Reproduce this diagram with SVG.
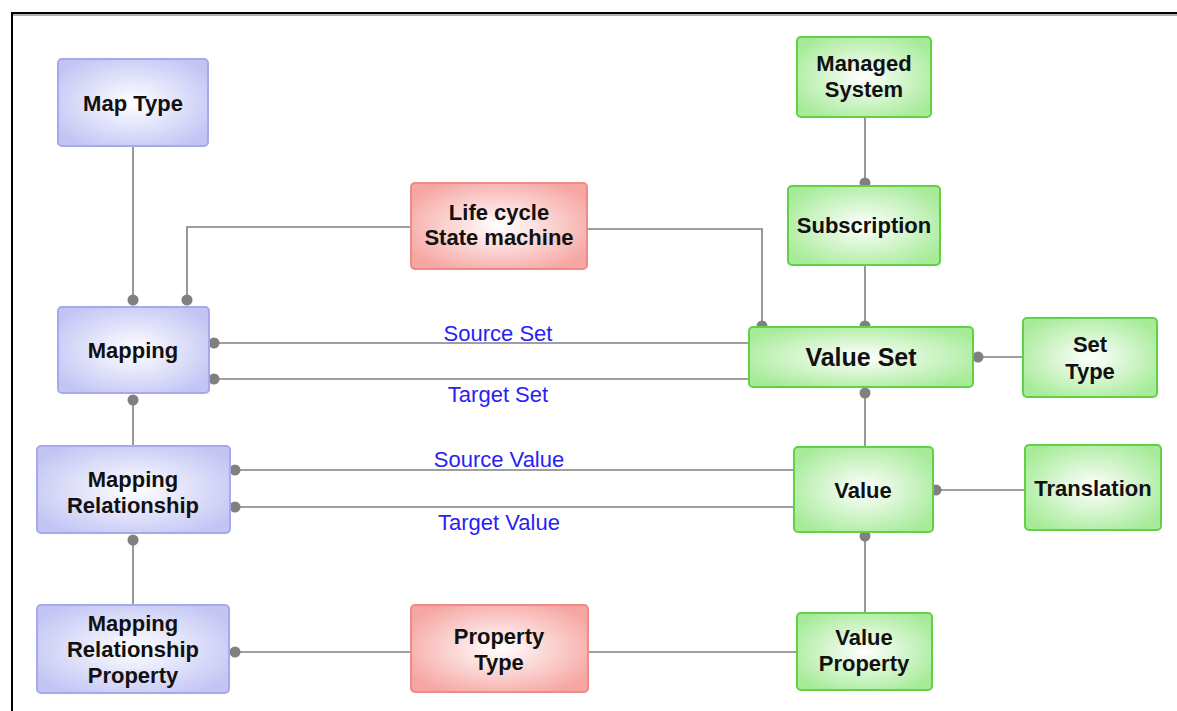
<svg xmlns="http://www.w3.org/2000/svg" width="1177" height="711" viewBox="0 0 1177 711">
<style>
.n{font-family:"Liberation Sans",Arial,sans-serif;font-weight:bold;font-size:22px;fill:#111;text-anchor:middle}
.big{font-size:25px}
.lb{font-family:"Liberation Sans",Arial,sans-serif;font-size:22px;fill:#2a1ef5;text-anchor:middle}
.c{stroke:#7f7f7f;stroke-width:1.6;fill:none}
.d{fill:#808080}
.blue{fill:url(#gb);stroke:#a6a9ec;stroke-width:2}
.green{fill:url(#gg);stroke:#63d046;stroke-width:2}
.red{fill:url(#gr);stroke:#f08a86;stroke-width:2}
</style>
<defs>
<radialGradient id="gb" cx="0.5" cy="0.5" r="0.6"><stop offset="0" stop-color="#ffffff"/><stop offset="1" stop-color="#c2c5f4"/></radialGradient>
<radialGradient id="gg" cx="0.5" cy="0.5" r="0.6"><stop offset="0" stop-color="#ffffff"/><stop offset="1" stop-color="#a6eb98"/></radialGradient>
<radialGradient id="gr" cx="0.5" cy="0.5" r="0.6"><stop offset="0" stop-color="#ffffff"/><stop offset="1" stop-color="#f6a5a1"/></radialGradient>
</defs>
<rect width="1177" height="711" fill="#fff"/>
<g id="frame">
<line x1="11" y1="15" x2="1177" y2="15" stroke="#b0b0b0" stroke-width="2"/>
<line x1="11" y1="13" x2="1177" y2="13" stroke="#000" stroke-width="2"/>
<line x1="12" y1="12" x2="12" y2="711" stroke="#000" stroke-width="2"/>
</g>
<g id="connectors">
<line class="c" x1="133" y1="146" x2="133" y2="300"/><circle class="d" cx="133" cy="300" r="5.5"/>
<polyline class="c" points="411,227 187,227 187,300"/><circle class="d" cx="187" cy="300" r="5.5"/>
<polyline class="c" points="587,229 762,229 762,326"/><circle class="d" cx="762" cy="326" r="5.5"/>
<line class="c" x1="865" y1="117" x2="865" y2="183"/><circle class="d" cx="865" cy="183" r="5.5"/>
<line class="c" x1="865" y1="265" x2="865" y2="326"/><circle class="d" cx="865" cy="326" r="5.5"/>
<line class="c" x1="214" y1="343" x2="749" y2="343"/><circle class="d" cx="214" cy="343" r="5.5"/>
<line class="c" x1="214" y1="379" x2="749" y2="379"/><circle class="d" cx="214" cy="379" r="5.5"/>
<line class="c" x1="978" y1="357" x2="1023" y2="357"/><circle class="d" cx="978" cy="357" r="5.5"/>
<line class="c" x1="133" y1="400" x2="133" y2="446"/><circle class="d" cx="133" cy="400" r="5.5"/>
<line class="c" x1="865" y1="393" x2="865" y2="447"/><circle class="d" cx="865" cy="393" r="5.5"/>
<line class="c" x1="235" y1="470" x2="794" y2="470"/><circle class="d" cx="235" cy="470" r="5.5"/>
<line class="c" x1="235" y1="507" x2="794" y2="507"/><circle class="d" cx="235" cy="507" r="5.5"/>
<line class="c" x1="936" y1="490" x2="1025" y2="490"/><circle class="d" cx="936" cy="490" r="5.5"/>
<line class="c" x1="133" y1="540" x2="133" y2="605"/><circle class="d" cx="133" cy="540" r="5.5"/>
<line class="c" x1="865" y1="536" x2="865" y2="613"/><circle class="d" cx="865" cy="536" r="5.5"/>
<line class="c" x1="235" y1="652" x2="797" y2="652"/><circle class="d" cx="235" cy="652" r="5.5"/>
<text class="lb" x="498" y="341">Source Set</text>
<text class="lb" x="498" y="402">Target Set</text>
<text class="lb" x="499" y="467">Source Value</text>
<text class="lb" x="499" y="530">Target Value</text>
</g>
<g id="map-type"><rect class="blue" x="58" y="59" width="150" height="87" rx="4"/><text class="n" x="133" y="111">Map Type</text></g>
<g id="mapping"><rect class="blue" x="58" y="307" width="151" height="86" rx="4"/><text class="n" x="133" y="358">Mapping</text></g>
<g id="mapping-relationship"><rect class="blue" x="37" y="446" width="193" height="87" rx="4"/><text class="n" x="133" y="487">Mapping</text><text class="n" x="133" y="513">Relationship</text></g>
<g id="mapping-relationship-property"><rect class="blue" x="37" y="605" width="192" height="88" rx="4"/><text class="n" x="133" y="631">Mapping</text><text class="n" x="133" y="657">Relationship</text><text class="n" x="133" y="683">Property</text></g>
<g id="life-cycle"><rect class="red" x="411" y="183" width="176" height="86" rx="4"/><text class="n" x="499" y="220">Life cycle</text><text class="n" x="499" y="245">State machine</text></g>
<g id="property-type"><rect class="red" x="411" y="605" width="177" height="87" rx="4"/><text class="n" x="499" y="644">Property</text><text class="n" x="499" y="670">Type</text></g>
<g id="managed-system"><rect class="green" x="797" y="37" width="134" height="80" rx="4"/><text class="n" x="864" y="71">Managed</text><text class="n" x="864" y="97">System</text></g>
<g id="subscription"><rect class="green" x="788" y="186" width="152" height="79" rx="4"/><text class="n" x="864" y="233">Subscription</text></g>
<g id="value-set"><rect class="green" x="749" y="327" width="224" height="60" rx="4"/><text class="n big" x="861" y="366">Value Set</text></g>
<g id="set-type"><rect class="green" x="1023" y="318" width="134" height="79" rx="4"/><text class="n" x="1090" y="352">Set</text><text class="n" x="1090" y="379">Type</text></g>
<g id="value"><rect class="green" x="794" y="447" width="139" height="85" rx="4"/><text class="n" x="863" y="498">Value</text></g>
<g id="translation"><rect class="green" x="1025" y="445" width="136" height="85" rx="4"/><text class="n" x="1093" y="496">Translation</text></g>
<g id="value-property"><rect class="green" x="797" y="613" width="135" height="77" rx="4"/><text class="n" x="864" y="645">Value</text><text class="n" x="864" y="671">Property</text></g>
</svg>
